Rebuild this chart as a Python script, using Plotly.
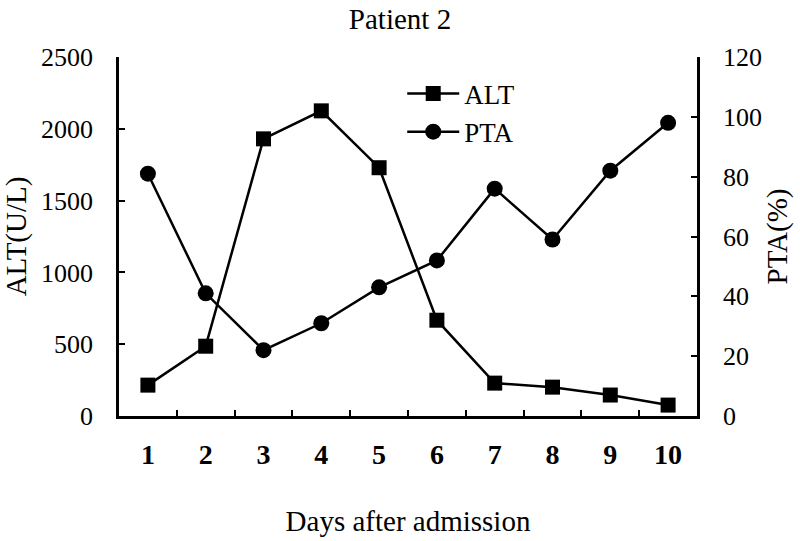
import plotly.graph_objects as go

days = ["1", "2", "3", "4", "5", "6", "7", "8", "9", "10"]
alt_values = [215, 486, 1930, 2125, 1729, 667, 229, 201, 146, 76]
pta_values = [81, 41, 22, 31, 43, 52, 76, 59, 82, 98]

FONT = "Liberation Serif"

fig = go.Figure()
fig.add_trace(go.Scatter(
    x=days, y=alt_values, name="ALT", mode="lines+markers",
    line=dict(color="black", width=2.5),
    marker=dict(symbol="square", size=15, color="black"),
    yaxis="y",
))
fig.add_trace(go.Scatter(
    x=days, y=pta_values, name="PTA", mode="lines+markers",
    line=dict(color="black", width=2.5),
    marker=dict(symbol="circle", size=16, color="black"),
    yaxis="y2",
))

fig.update_layout(
    width=800, height=541,
    margin=dict(l=119, r=103, t=57, b=125, autoexpand=False),
    paper_bgcolor="white", plot_bgcolor="white",
    font=dict(family=FONT, color="black", size=26),
    title=dict(text="Patient 2", x=0.5, xanchor="center", y=0.965, yanchor="middle",
               font=dict(family=FONT, size=29, color="black")),
    showlegend=True,
    legend=dict(x=0.49, y=0.965, xanchor="left", yanchor="top",
                bgcolor="rgba(0,0,0,0)", font=dict(family=FONT, size=27),
                tracegroupgap=0, itemwidth=52),
    xaxis=dict(
        type="category", tickson="boundaries", automargin=False,
        range=[-0.5, len(days) - 0.5],
        showline=True, linecolor="black", linewidth=2.5,
        ticks="inside", ticklen=6, tickwidth=2, tickcolor="black",
        showgrid=False, zeroline=False,
        tickfont=dict(family=FONT, size=28, weight="bold"),
        ticklabelstandoff=12,
        title=dict(text="Days after admission", font=dict(family=FONT, size=29), standoff=42),
    ),
    yaxis=dict(
        range=[0, 2500], dtick=500, tick0=0, automargin=False,
        showline=True, linecolor="black", linewidth=2.5,
        ticks="inside", ticklen=6, tickwidth=2, tickcolor="black",
        showgrid=False, zeroline=False,
        tickfont=dict(family=FONT, size=26),
        ticklabelstandoff=18,
        title=dict(text="ALT(U/L)", font=dict(family=FONT, size=29), standoff=6),
    ),
    yaxis2=dict(
        range=[0, 120], dtick=20, tick0=0, overlaying="y", side="right", automargin=False,
        showline=True, linecolor="black", linewidth=2.5,
        ticks="inside", ticklen=6, tickwidth=2, tickcolor="black",
        showgrid=False, zeroline=False,
        tickfont=dict(family=FONT, size=26),
        ticklabelstandoff=18,
        title=dict(text="PTA(%)", font=dict(family=FONT, size=29), standoff=6),
    ),
)

fig.write_html("out.html", config={"displayModeBar": False},
               post_script="document.body.style.margin='0px';")
